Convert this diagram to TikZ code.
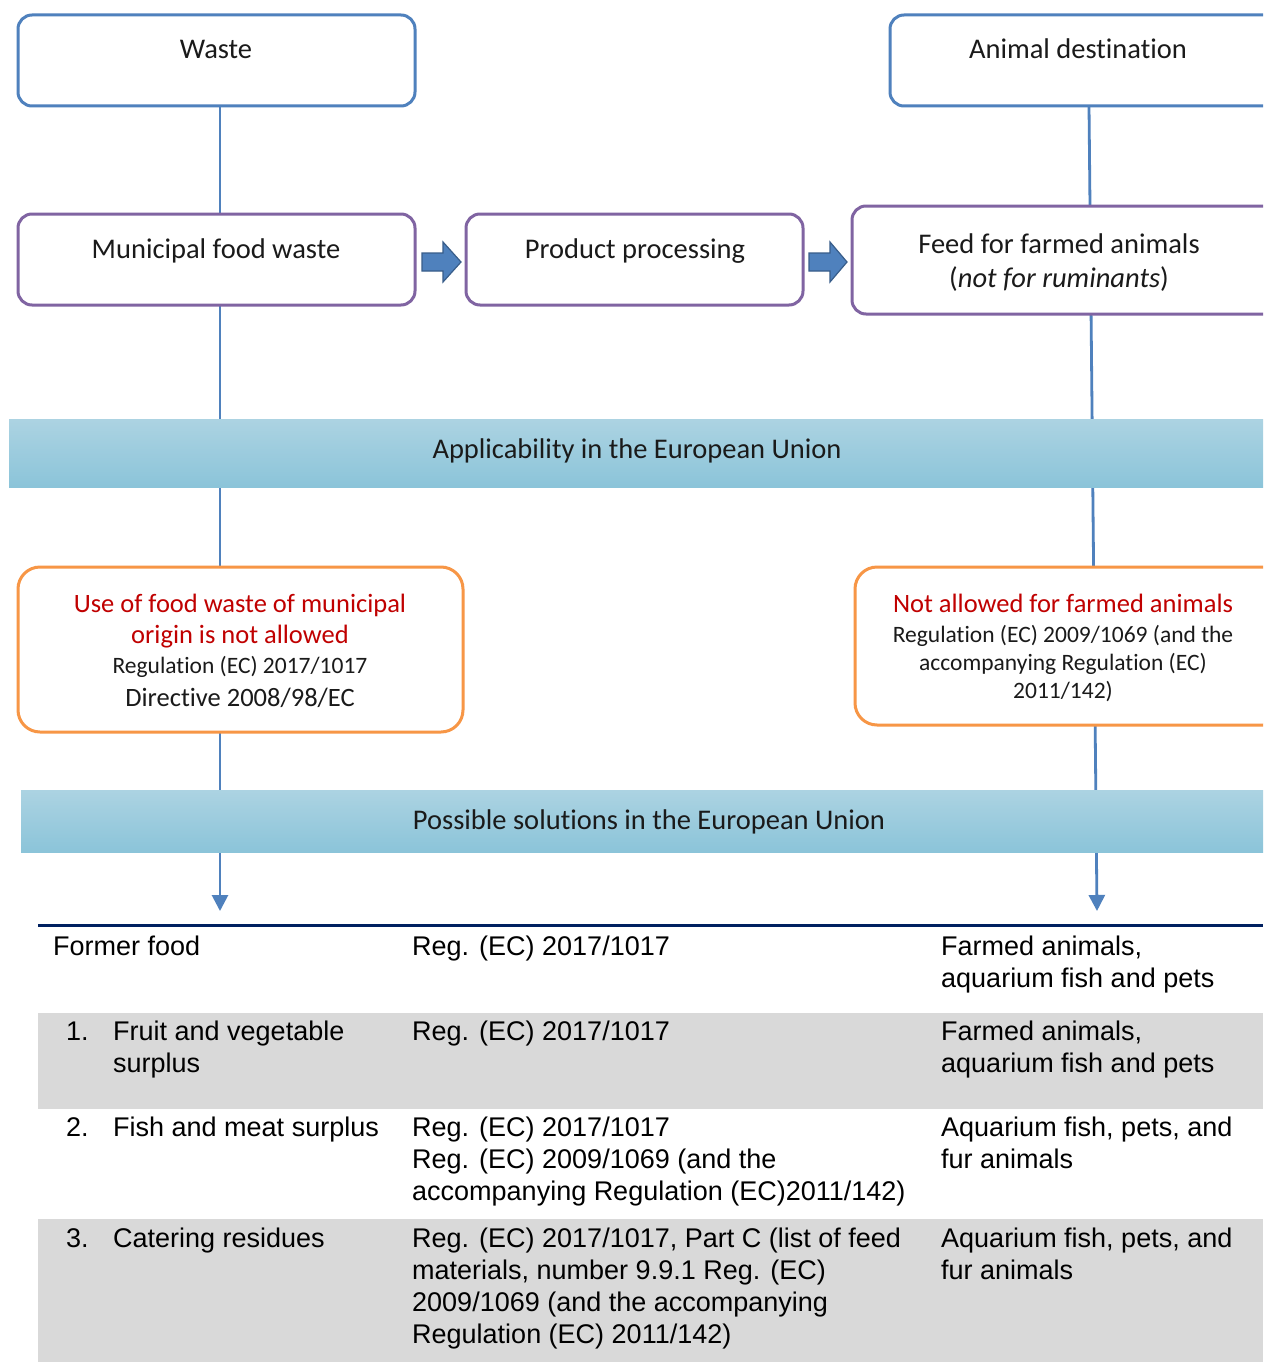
\documentclass[tikz,border=0pt]{standalone}
\usepackage{fontspec}
\setmainfont{Carlito}[Ligatures=NoCommon]
\newfontfamily\tabfont{Liberation Sans}
\usetikzlibrary{arrows.meta}
\definecolor{lnblue}{HTML}{4F81BD}
\definecolor{boxblue}{HTML}{4F81BD}
\definecolor{boxpurple}{HTML}{8064A2}
\definecolor{boxorange}{HTML}{F79646}
\definecolor{redtxt}{HTML}{C00000}
\definecolor{bandtop}{HTML}{ACD3E2}
\definecolor{bandbot}{HTML}{8BC4D9}
\definecolor{navyrule}{HTML}{002060}
\definecolor{rowgray}{HTML}{D9D9D9}
\definecolor{arrfill}{HTML}{4F81BD}
\definecolor{arrdraw}{HTML}{385D8A}
\definecolor{txtdark}{HTML}{1A1A1A}
\begin{document}
\begin{tikzpicture}[x=1pt,y=-1pt,
  frame/.style={draw, line width=3pt, fill=white, rectangle, inner sep=0pt, outer sep=0pt, anchor=north west},
  bluebox/.style={frame, draw=boxblue, rounded corners=14pt},
  purplebox/.style={frame, draw=boxpurple, rounded corners=14pt},
  orangebox/.style={frame, draw=boxorange, rounded corners=22pt},
  band/.style={rectangle, inner sep=0pt, outer sep=0pt, anchor=north west, top color=bandtop, bottom color=bandbot},
  conn/.style={draw=lnblue, line width=2.8pt},
  blockarrow/.style={fill=arrfill, draw=arrdraw, line width=1.2pt, line join=miter},
  bigtxt/.style={inner sep=0pt, anchor=base, text=txtdark, font=\fontsize{28.5}{34}\selectfont},
  redtxtst/.style={inner sep=0pt, anchor=base, text=redtxt, font=\fontsize{26.5}{32}\selectfont},
  midtxt/.style={inner sep=0pt, anchor=base, text=txtdark, font=\fontsize{26.5}{32}\selectfont},
  smalltxt/.style={inner sep=0pt, anchor=base, text=txtdark, font=\fontsize{23.5}{29}\selectfont},
  tabtxt/.style={inner sep=0pt, anchor=base west, text=black, font=\tabfont\fontsize{27}{32}\selectfont},
]
\path[use as bounding box] (0,0) rectangle (1263,1362);
\clip (0,0) rectangle (1263,1362);
\fill[white] (0,0) rectangle (1263,1362);

% connector coordinates
\coordinate (ltop) at (220,106);
\coordinate (lend) at (220,911);
\coordinate (rtop) at (1089,106);
\coordinate (rend) at (1097,911);
\draw[conn, -{Triangle[width=16pt,length=16pt]}] (ltop) -- (lend);
\draw[conn, -{Triangle[width=16pt,length=16pt]}] (rtop) -- (rend);

% top boxes
\node[bluebox, minimum width=397pt, minimum height=91pt] (waste) at (18,15) {};
\node[bluebox, minimum width=390pt, minimum height=91pt] (animal) at (890,15) {};
\node[bigtxt] (wastetxt) at (216,59) {Waste};
\node[bigtxt] (animaltxt) at (1078,59) {Animal destination};

% process row
\node[purplebox, minimum width=397pt, minimum height=91pt] (muni) at (18,214) {};
\node[purplebox, minimum width=337pt, minimum height=91pt] (prod) at (466,214) {};
\node[purplebox, minimum width=430pt, minimum height=108pt] (feed) at (852,206) {};
\node[bigtxt] (munitxt) at (216,258) {Municipal food waste};
\node[bigtxt] (prodtxt) at (635,258) {Product processing};
\node[bigtxt] (feedtxt1) at (1059,253) {Feed for farmed animals};
\node[bigtxt] (feedtxt2) at (1059,287) {(\textit{not for ruminants})};

% block arrows
\draw[blockarrow] (422,253) -- (443,253) -- (443,242) -- (461,262) -- (443,282) -- (443,271) -- (422,271) -- cycle;
\draw[blockarrow] (809,253) -- (830,253) -- (830,242) -- (847,262) -- (830,282) -- (830,271) -- (809,271) -- cycle;

% band 1
\node[band, minimum width=1260pt, minimum height=68pt] (band1) at (9,419) {};
\node[bigtxt] (band1txt) at (637,458) {Applicability in the European Union};

% orange boxes
\node[orangebox, minimum width=445pt, minimum height=165pt] (orL) at (18,567) {};
\node[orangebox, minimum width=430pt, minimum height=158pt] (orR) at (855,567) {};
\node[redtxtst] (orL1) at (240,612) {Use of food waste of municipal};
\node[redtxtst] (orL2) at (240,643) {origin is not allowed};
\node[smalltxt] (orL3) at (240,673) {Regulation (EC) 2017/1017};
\node[midtxt] (orL4) at (240,706) {Directive 2008/98/EC};
\node[redtxtst] (orR1) at (1063,612) {Not allowed for farmed animals};
\node[smalltxt] (orR2) at (1063,642) {Regulation (EC) 2009/1069 (and the};
\node[smalltxt] (orR3) at (1063,670) {accompanying Regulation (EC)};
\node[smalltxt] (orR4) at (1063,698) {2011/142)};

% band 2
\node[band, minimum width=1250pt, minimum height=62pt] (band2) at (21,790) {};
\node[bigtxt] (band2txt) at (649,829) {Possible solutions in the European Union};

% table
\fill[rowgray] (38,1013) rectangle (1263,1109);
\fill[rowgray] (38,1219) rectangle (1263,1362);
\draw[navyrule, line width=3.5pt] (38,925.5) -- (1263,925.5);

\node[tabtxt] (r0c1) at (53,955) {Former food};
\node[tabtxt] (r0c2) at (412,955) {Reg. (EC) 2017/1017};
\node[tabtxt] (r0c3a) at (941,955) {Farmed animals,};
\node[tabtxt] (r0c3b) at (941,987) {aquarium fish and pets};

\node[tabtxt] (r1n) at (66,1040) {1.};
\node[tabtxt] (r1c1a) at (113,1040) {Fruit and vegetable};
\node[tabtxt] (r1c1b) at (113,1072) {surplus};
\node[tabtxt] (r1c2) at (412,1040) {Reg. (EC) 2017/1017};
\node[tabtxt] (r1c3a) at (941,1040) {Farmed animals,};
\node[tabtxt] (r1c3b) at (941,1072) {aquarium fish and pets};

\node[tabtxt] (r2n) at (66,1136) {2.};
\node[tabtxt] (r2c1) at (113,1136) {Fish and meat surplus};
\node[tabtxt] (r2c2a) at (412,1136) {Reg. (EC) 2017/1017};
\node[tabtxt] (r2c2b) at (412,1168) {Reg. (EC) 2009/1069 (and the};
\node[tabtxt] (r2c2c) at (412,1200) {accompanying Regulation (EC)2011/142)};
\node[tabtxt] (r2c3a) at (941,1136) {Aquarium fish, pets, and};
\node[tabtxt] (r2c3b) at (941,1168) {fur animals};

\node[tabtxt] (r3n) at (66,1247) {3.};
\node[tabtxt] (r3c1) at (113,1247) {Catering residues};
\node[tabtxt] (r3c2a) at (412,1247) {Reg. (EC) 2017/1017, Part C (list of feed};
\node[tabtxt] (r3c2b) at (412,1279) {materials, number 9.9.1 Reg. (EC)};
\node[tabtxt] (r3c2c) at (412,1311) {2009/1069 (and the accompanying};
\node[tabtxt] (r3c2d) at (412,1343) {Regulation (EC) 2011/142)};
\node[tabtxt] (r3c3a) at (941,1247) {Aquarium fish, pets, and};
\node[tabtxt] (r3c3b) at (941,1279) {fur animals};
\end{tikzpicture}
\end{document}
